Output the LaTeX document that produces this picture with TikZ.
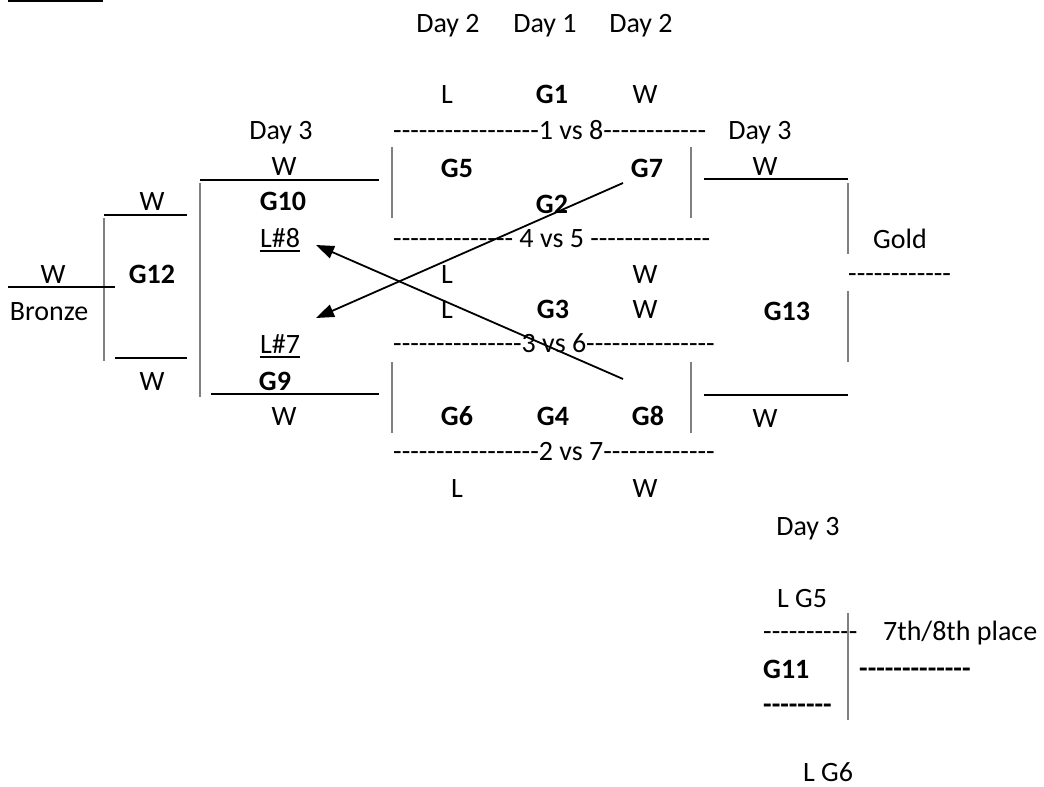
\documentclass[tikz,border=0pt]{standalone}
\usepackage{fontspec}
\setmainfont{Carlito}
\usetikzlibrary{arrows.meta}
\definecolor{vgray}{RGB}{128,128,128}
\ExplSyntaxOn
\cs_new:Npn \hyphs #1 { \prg_replicate:nn {#1} { -\kern0pt\relax } }
\ExplSyntaxOff
\tikzset{
  txt/.style={font=\fontsize{28}{34}\selectfont, inner sep=0pt, anchor=base},
  bld/.style={font=\fontsize{28}{34}\selectfont\bfseries, inner sep=0pt, anchor=base},
  txtl/.style={txt, anchor=base west},
  bldl/.style={bld, anchor=base west},
  hbar/.style={line width=2.6pt, black},
  vbar/.style={line width=1.6pt, vgray},
  uline/.style={line width=1.6pt, black},
  arr/.style={line width=1.8pt, -{Triangle[length=18pt,width=13pt]}}
}
\begin{document}
\begin{tikzpicture}[x=1pt,y=-1pt]
\useasboundingbox (0,0) rectangle (1044,787);
% header
\node[txt] (d2a) at (448,32) {Day 2};
\node[txt] (d1) at (545,32) {Day 1};
\node[txt] (d2b) at (641,32) {Day 2};
% G1 row
\node[txt] (l1) at (447,103) {L};
\node[bld] (g1) at (552,103) {G1};
\node[txt] (w1) at (645,103) {W};
\node[txtl] (m18) at (393,139) {\hyphs{17}1 vs 8\hyphs{12}};
\node[txt] (d3l) at (281,139) {Day 3};
\node[txt] (d3r) at (760,139) {Day 3};
\node[txt] (w10) at (284,175) {W};
\node[txt] (w13a) at (765,175) {W};
\node[bld] (g5) at (457,177) {G5};
\node[bld] (g7) at (647,177) {G7};
\node[bld] (g10) at (283,210) {G10};
\node[txt] (w12a) at (152,210) {W};
\node[bld] (g2) at (552,213) {G2};
\node[txt] (l8) at (280,247) {L\#8};
\node[txt] (gold) at (900,248) {Gold};
\node[txtl] (m45) at (393,247) {\hyphs{14} 4 vs 5 \hyphs{14}};
\node[txt] (wb) at (53,283) {W};
\node[bld] (g12) at (152,283) {G12};
\node[txt] (l2) at (447,283) {L};
\node[txt] (w2) at (645,283) {W};
\node[txtl] (gd) at (848,282) {\hyphs{12}};
\node[txt] (bronze) at (49,320) {Bronze};
\node[txt] (l3) at (447,318) {L};
\node[bld] (g3) at (553,318) {G3};
\node[txt] (w3) at (645,318) {W};
\node[bld] (g13) at (787,320) {G13};
\node[txtl] (m36) at (393,352) {\hyphs{15}3 vs 6\hyphs{15}};
\node[txt] (l7) at (280,353) {L\#7};
\node[txt] (w12b) at (152,390) {W};
\node[bld] (g9) at (275,390) {G9};
\node[bld] (g6) at (457,425) {G6};
\node[bld] (g4) at (553,425) {G4};
\node[bld] (g8) at (648,425) {G8};
\node[txt] (w9) at (284,425) {W};
\node[txt] (w13b) at (765,427) {W};
\node[txtl] (m27) at (393,460) {\hyphs{17}2 vs 7\hyphs{13}};
\node[txt] (l4) at (457,497) {L};
\node[txt] (w4) at (645,497) {W};
% 7th/8th
\node[txt] (d3br) at (808,535) {Day 3};
\node[txt] (lg5) at (802,607) {L G5};
\node[txtl] (d11) at (763,640) {\hyphs{11}};
\node[txtl] (p78) at (883,640) {7th/8th place};
\node[bldl] (g11) at (763,678) {G11};
\node[bldl] (bd13) at (859,677) {\hyphs{13}};
\node[bldl] (bd8) at (763,713) {\hyphs{8}};
\node[txt] (lg6) at (828,781) {L G6};
% underlines
\draw[uline] ([yshift=-4pt]l8.base west) -- ([yshift=-4pt]l8.base east);
\draw[uline] ([yshift=-4pt]l7.base west) -- ([yshift=-4pt]l7.base east);
% bracket lines
\draw[line width=2pt] (8,1) -- (103,1);
\draw[hbar] (200,180) -- (379,180);
\draw[hbar] (211,394) -- (379,394);
\draw[vbar] (200,183) -- (200,397);
\draw[hbar] (104,215) -- (187,215);
\draw[hbar] (115,358) -- (187,358);
\draw[vbar] (104,218) -- (104,361);
\draw[hbar] (8,287) -- (115,287);
\draw[vbar] (392,147) -- (392,218);
\draw[vbar] (691,147) -- (691,218);
\draw[vbar] (392,362) -- (392,433);
\draw[vbar] (691,362) -- (691,433);
\draw[hbar] (704,179) -- (848,179);
\draw[hbar] (704,395) -- (848,395);
\draw[vbar] (848,183) -- (848,254);
\draw[vbar] (848,291) -- (848,362);
\draw[vbar] (848,613) -- (848,720);
% arrows
\coordinate (a1s) at (623,183);
\coordinate (a1e) at (316,318);
\coordinate (a2s) at (623,379);
\coordinate (a2e) at (316,245);
\draw[arr] (a1s) -- (a1e);
\draw[arr] (a2s) -- (a2e);
\end{tikzpicture}
\end{document}
